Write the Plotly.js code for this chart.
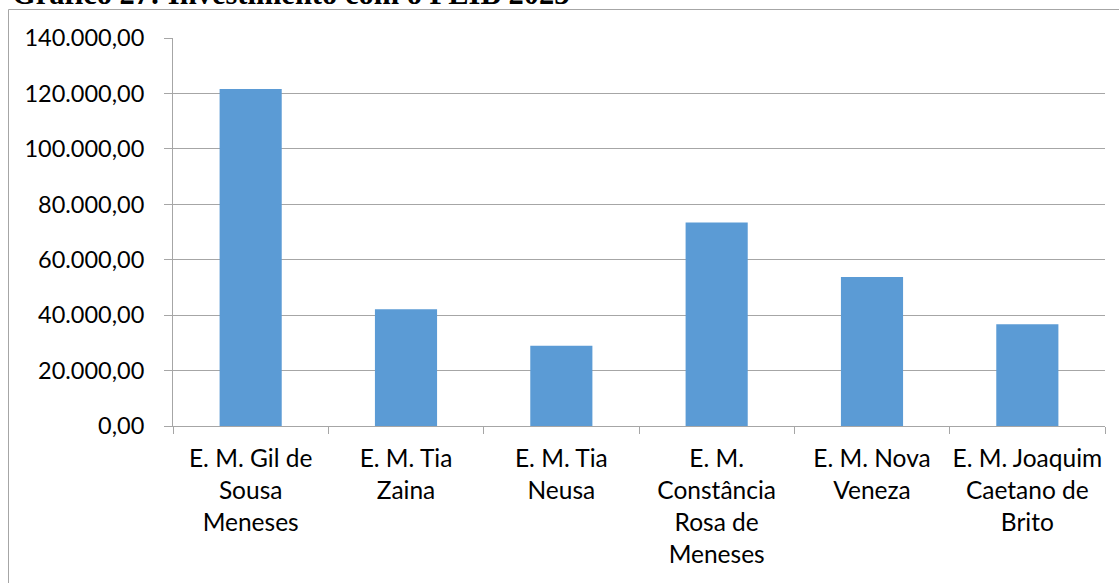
<!DOCTYPE html>
<html>
<head>
<meta charset="utf-8">
<script src="https://cdn.plot.ly/plotly-3.0.1.min.js"></script>
<style>html,body{margin:0;padding:0;background:#fff;}#chart{width:1119px;height:583px;}</style>
</head>
<body>
<div id="chart"></div>
<script>
const chartTitle = "Gráfico 27: Investimento com o PEIB 2023";
const categories = [
  "E. M. Gil de<br>Sousa<br>Meneses",
  "E. M. Tia<br>Zaina",
  "E. M. Tia<br>Neusa",
  "E. M.<br>Constância<br>Rosa de<br>Meneses",
  "E. M. Nova<br>Veneza",
  "E. M. Joaquim<br>Caetano de<br>Brito"
];
const values = [121560, 42130, 28990, 73400, 53790, 36710];
const yTicks = [0, 20000, 40000, 60000, 80000, 100000, 120000, 140000];

const W = 1119, H = 583;
const m = {l: 173, r: 14, t: 38, b: 157};
const pw = W - m.l - m.r, ph = H - m.t - m.b;
const px = x => (x - m.l) / pw;
const py = y => (H - m.b - y) / ph;

const trace = {
  type: 'bar',
  x: categories,
  y: values,
  marker: {color: '#5B9BD5', line: {width: 0}},
  hoverinfo: 'none'
};

const layout = {
  width: W, height: H,
  margin: m,
  paper_bgcolor: '#fff',
  plot_bgcolor: '#fff',
  separators: ',.',
  bargap: 0.6,
  showlegend: false,
  font: {family: 'Lato, "Open Sans", sans-serif', size: 23, color: '#000'},
  annotations: [{
    text: '<b>' + chartTitle + '</b>',
    font: {family: '"Liberation Serif", "Times New Roman", serif', size: 30.5, color: '#000'},
    xref: 'paper', x: px(11), xanchor: 'left',
    yref: 'paper', y: py(12), yanchor: 'bottom',
    showarrow: false, borderpad: 0
  }],
  xaxis: {
    type: 'category',
    tickson: 'boundaries',
    tickangle: 0,
    ticks: 'outside', ticklen: 7, tickcolor: '#a6a6a6', tickwidth: 1,
    showline: true, linecolor: '#a6a6a6', linewidth: 1,
    showgrid: false, zeroline: false,
    ticklabelstandoff: 11,
    tickfont: {size: 24.5, color: '#000'}
  },
  yaxis: {
    range: [0, 140000],
    tickmode: 'array', tickvals: yTicks,
    tickformat: ',.2f',
    ticks: 'outside', ticklen: 8, tickcolor: '#a6a6a6', tickwidth: 1,
    showline: true, linecolor: '#a6a6a6', linewidth: 1,
    showgrid: true, gridcolor: '#a6a6a6', gridwidth: 1,
    zeroline: false,
    ticklabelstandoff: 15,
    tickfont: {size: 23.5, color: '#000'}
  },
  shapes: [
    {type: 'rect', xref: 'paper', yref: 'paper',
     x0: px(8.5), x1: px(1125), y0: py(600), y1: py(9.5),
     line: {color: '#a6a6a6', width: 1}, fillcolor: 'rgba(0,0,0,0)', layer: 'below'}
  ]
};

Plotly.newPlot('chart', [trace], layout, {displayModeBar: false, staticPlot: true});
</script>
</body>
</html>
